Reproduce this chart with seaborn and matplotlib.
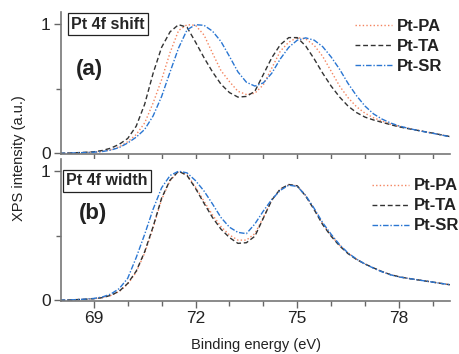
import numpy as np
import pandas as pd
import seaborn as sns
import matplotlib
matplotlib.use("Agg")
import matplotlib.pyplot as plt
from matplotlib.ticker import MultipleLocator

# binding energy grid (eV)
energy = [68.00, 68.25, 68.50, 68.75, 69.00, 69.25, 69.50, 69.75,
          70.00, 70.25, 70.50, 70.75, 71.00, 71.25, 71.50, 71.75,
          72.00, 72.25, 72.50, 72.75, 73.00, 73.25, 73.50, 73.75,
          74.00, 74.25, 74.50, 74.75, 75.00, 75.25, 75.50, 75.75,
          76.00, 76.25, 76.50, 76.75, 77.00, 77.25, 77.50, 77.75,
          78.00, 78.25, 78.50, 78.75, 79.00, 79.25, 79.50]

# (a) Pt 4f shift
shift_pa = [0.000, 0.002, 0.004, 0.006, 0.009, 0.015, 0.028, 0.050,
            0.090, 0.145, 0.235, 0.390, 0.570, 0.780, 0.950, 0.995,
            0.990, 0.915, 0.775, 0.640, 0.555, 0.480, 0.455, 0.465,
            0.530, 0.660, 0.790, 0.860, 0.895, 0.885, 0.835, 0.750,
            0.635, 0.520, 0.430, 0.360, 0.310, 0.275, 0.250, 0.226,
            0.210, 0.195, 0.181, 0.168, 0.156, 0.143, 0.130]
shift_ta = [0.000, 0.002, 0.005, 0.008, 0.012, 0.022, 0.040, 0.070,
            0.115, 0.210, 0.380, 0.620, 0.820, 0.940, 0.995, 0.975,
            0.860, 0.740, 0.630, 0.535, 0.470, 0.435, 0.440, 0.480,
            0.610, 0.740, 0.840, 0.895, 0.895, 0.830, 0.730, 0.620,
            0.520, 0.435, 0.365, 0.315, 0.280, 0.258, 0.240, 0.222,
            0.205, 0.192, 0.180, 0.168, 0.156, 0.143, 0.130]
shift_sr = [0.000, 0.002, 0.004, 0.006, 0.009, 0.014, 0.025, 0.045,
            0.080, 0.125, 0.185, 0.290, 0.440, 0.630, 0.815, 0.955,
            0.995, 0.990, 0.945, 0.865, 0.750, 0.630, 0.550, 0.520,
            0.545, 0.620, 0.730, 0.820, 0.875, 0.893, 0.875, 0.825,
            0.745, 0.650, 0.540, 0.445, 0.365, 0.305, 0.265, 0.235,
            0.212, 0.195, 0.180, 0.167, 0.155, 0.142, 0.128]

# (b) Pt 4f width
width_pa = [0.000, 0.002, 0.005, 0.008, 0.012, 0.020, 0.037, 0.068,
            0.125, 0.218, 0.365, 0.560, 0.780, 0.925, 0.997, 0.970,
            0.875, 0.765, 0.660, 0.570, 0.505, 0.465, 0.465, 0.515,
            0.640, 0.775, 0.860, 0.893, 0.885, 0.810, 0.705, 0.590,
            0.500, 0.425, 0.363, 0.317, 0.281, 0.250, 0.222, 0.198,
            0.182, 0.170, 0.160, 0.150, 0.140, 0.130, 0.120]
width_ta = [0.000, 0.002, 0.005, 0.008, 0.012, 0.020, 0.038, 0.070,
            0.130, 0.225, 0.375, 0.570, 0.790, 0.930, 0.998, 0.965,
            0.865, 0.750, 0.640, 0.550, 0.485, 0.440, 0.445, 0.495,
            0.635, 0.775, 0.860, 0.895, 0.885, 0.805, 0.700, 0.585,
            0.495, 0.420, 0.360, 0.315, 0.280, 0.250, 0.222, 0.198,
            0.182, 0.170, 0.160, 0.150, 0.140, 0.130, 0.120]
width_sr = [0.000, 0.002, 0.005, 0.009, 0.014, 0.025, 0.048, 0.090,
            0.170, 0.330, 0.510, 0.705, 0.870, 0.965, 0.998, 0.985,
            0.925, 0.845, 0.745, 0.640, 0.565, 0.525, 0.515, 0.590,
            0.690, 0.780, 0.850, 0.890, 0.880, 0.810, 0.710, 0.600,
            0.510, 0.430, 0.365, 0.318, 0.280, 0.248, 0.220, 0.197,
            0.180, 0.170, 0.160, 0.150, 0.140, 0.130, 0.120]

samples = ["Pt-PA", "Pt-TA", "Pt-SR"]
colors = ["#f4845f", "#333333", "#2a76d2"]
styles = [(0, (1, 1.6)), (0, (3.5, 2)), (0, (4, 1.3, 1, 1.3))]

sns.set_style("ticks")
plt.rcParams['font.family'] = ['Liberation Sans', 'DejaVu Sans']

fig = plt.figure(figsize=(4.59, 3.54), dpi=100)
ax_a = fig.add_axes([0.132, 0.565, 0.848, 0.400])
ax_b = fig.add_axes([0.132, 0.150, 0.848, 0.400])

panels = [
    (ax_a, [shift_pa, shift_ta, shift_sr], "Pt 4f shift", "(a)",
     (0.122, 0.915), (0.073, 0.60), (0.757, 0.955)),
    (ax_b, [width_pa, width_ta, width_sr], "Pt 4f width", "(b)",
     (0.119, 0.849), (0.083, 0.617), (0.800, 0.865)),
]

for ax, series, box_text, tag, box_xy, tag_xy, leg_xy in panels:
    for name, vals, c, ls in zip(samples, series, colors, styles):
        sns.lineplot(x=energy, y=vals, ax=ax, color=c, linestyle=ls,
                     linewidth=1.0, label=name)
    ax.set_xlim(68.02, 79.5)
    ax.set_ylim(-0.005, 1.09)
    ax.xaxis.set_major_locator(MultipleLocator(3))
    ax.xaxis.set_minor_locator(MultipleLocator(1))
    ax.set_yticks([0, 1])
    ax.set_yticklabels(["0", "1"])
    ax.yaxis.set_minor_locator(MultipleLocator(0.5))
    ax.tick_params(which="major", length=5, width=1, color="#666666",
                   labelsize=12.5, labelcolor="#222222", pad=2)
    ax.tick_params(which="minor", length=3.5, width=1, color="#666666")
    for s in ["top", "right"]:
        ax.spines[s].set_visible(False)
    for s in ["left", "bottom"]:
        ax.spines[s].set_color("#777777")
        ax.spines[s].set_linewidth(1.2)
    ax.set_xlabel("")
    ax.set_ylabel("")
    ax.text(box_xy[0], box_xy[1], box_text, transform=ax.transAxes,
            fontsize=11.5, fontweight="bold", ha="center", va="center",
            bbox=dict(boxstyle="square,pad=0.22", fc="white", ec="#222222", lw=0.9))
    ax.text(tag_xy[0], tag_xy[1], tag, transform=ax.transAxes, fontsize=16,
            fontweight="bold", ha="center", va="center", color="#222222")
    leg = ax.legend(loc="upper left", bbox_to_anchor=leg_xy, frameon=False,
                    fontsize=12, handlelength=2.2, handletextpad=0.3,
                    labelspacing=0.3, borderpad=0, borderaxespad=0)
    for t in leg.get_texts():
        t.set_fontweight("bold")
        t.set_color("#222222")

ax_a.tick_params(axis="x", labelbottom=False)

fig.text(0.041, 0.552, "XPS intensity (a.u.)", rotation=90, fontsize=10.5,
         ha="center", va="center", color="#222222")
fig.text(0.558, 0.025, "Binding energy (eV)", fontsize=10.5,
         ha="center", va="center", color="#222222")

fig.savefig("out.png", dpi=100)
